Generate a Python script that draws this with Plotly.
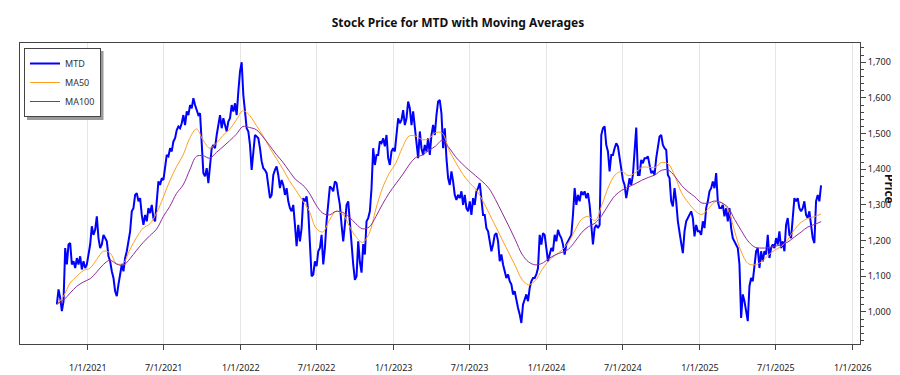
import pandas as pd
import plotly.graph_objects as go

# ---------------- data ----------------
start_date = "2020-10-19"
end_date = "2025-10-17"

mtd_prices = [
    # Oct 2020 - Jun 2021
    1021, 1063, 1039, 1002, 1030, 1179, 1133, 1189, 1193, 1133, 1142, 1123, 1151, 1133, 1156, 1119,
    1142, 1123, 1133, 1156, 1189, 1240, 1216, 1230, 1268, 1207, 1179, 1189, 1216, 1207, 1198, 1156,
    1142, 1114, 1095, 1058, 1044, 1077, 1105, 1133, 1114, 1151, 1170, 1198, 1226, 1282, 1291, 1328,
    1333, 1310, 1319, 1272, 1244, 1272, 1254, 1291, 1277, 1300, 1263, 1254, 1319, 1366, 1356, 1375,
    1370, 1412, 1440, 1436, 1459, 1450, 1478, 1487, 1510, 1520,
    # Jun 2021 - Jul 2022
    1515, 1529, 1552, 1524, 1562, 1552, 1580, 1571, 1599, 1580, 1562, 1552, 1557, 1459, 1389, 1380,
    1403, 1361, 1412, 1459, 1468, 1459, 1496, 1524, 1552, 1515, 1543, 1524, 1506, 1534, 1543, 1580,
    1562, 1585, 1552, 1618, 1674, 1700, 1608, 1562, 1515, 1506, 1468, 1398, 1440, 1496, 1492, 1487,
    1459, 1422, 1403, 1398, 1389, 1356, 1319, 1328, 1384, 1398, 1408, 1384, 1347, 1370, 1356, 1328,
    1347, 1310, 1291, 1282, 1300, 1244, 1184, 1244, 1198, 1235, 1319, 1310, 1324, 1282,
    # Jul 2022 - Jun 2023
    1179, 1100, 1105, 1142, 1128, 1170, 1179, 1216, 1133, 1179, 1254, 1300, 1352, 1347, 1338, 1366,
    1361, 1328, 1300, 1244, 1198, 1244, 1300, 1310, 1244, 1179, 1133, 1090, 1100, 1198, 1140, 1110,
    1190, 1161, 1254, 1263, 1282, 1347, 1459, 1412, 1440, 1440, 1478, 1473, 1487, 1464, 1496, 1431,
    1412, 1450, 1459, 1450, 1496, 1543, 1529, 1538, 1566, 1524, 1543, 1590, 1571, 1524, 1562, 1515,
    1459, 1431, 1506, 1459, 1440, 1468, 1450, 1487, 1440, 1496, 1524, 1496, 1552, 1590,
    # Jun 2023 - May 2024
    1594, 1557, 1459, 1515, 1431, 1375, 1356, 1394, 1366, 1328, 1314, 1328, 1319, 1338, 1300, 1328,
    1291, 1282, 1310, 1272, 1319, 1300, 1338, 1347, 1361, 1310, 1272, 1272, 1235, 1226, 1198, 1170,
    1189, 1216, 1221, 1198, 1142, 1161, 1133, 1114, 1095, 1105, 1086, 1077, 1049, 1058, 1030, 1011,
    993, 969, 1021, 1039, 1049, 1030, 1067, 1086, 1095, 1095, 1105, 1123, 1216, 1189, 1221, 1216,
    1179, 1142, 1161, 1179, 1170, 1216, 1198, 1230, 1216, 1207, 1189, 1161, 1189, 1198,
    # May 2024 - Apr 2025
    1207, 1216, 1272, 1347, 1300, 1328, 1310, 1338, 1328, 1338, 1319, 1333, 1300, 1235, 1189, 1235,
    1244, 1235, 1244, 1496, 1515, 1520, 1468, 1450, 1394, 1440, 1440, 1459, 1473, 1464, 1431, 1394,
    1370, 1356, 1319, 1347, 1375, 1356, 1384, 1450, 1517, 1384, 1384, 1426, 1417, 1431, 1431, 1436,
    1412, 1389, 1394, 1384, 1431, 1459, 1492, 1496, 1468, 1459, 1454, 1384, 1375, 1310, 1296, 1347,
    1310, 1254, 1216, 1193, 1165, 1226, 1254, 1263, 1272, 1282, 1263, 1212, 1244, 1226,
    # Apr 2025 - Oct 2025
    1226, 1216, 1254, 1235, 1291, 1310, 1338, 1347, 1366, 1347, 1389, 1310, 1291, 1291, 1300, 1268,
    1291, 1254, 1291, 1235, 1207, 1198, 1189, 1179, 1133, 983, 1049, 1030, 1002, 974, 1072, 1095,
    1086, 1123, 1170, 1179, 1123, 1170, 1142, 1170, 1161, 1216, 1151, 1179, 1189, 1179, 1207, 1189,
    1226, 1179, 1198, 1170, 1244, 1263, 1216, 1207, 1254, 1319, 1310, 1319, 1291, 1282, 1291, 1310,
    1272, 1263, 1282, 1244, 1207, 1193, 1310, 1328, 1310, 1355,
]

ma50_values = [
    1021, 1044, 1081, 1100, 1116, 1123, 1147, 1170, 1165, 1135, 1137, 1175, 1209, 1235, 1247, 1277,
    1321, 1368, 1407,
    1440, 1487, 1513, 1482, 1459, 1473, 1495, 1512, 1538, 1564, 1551, 1523, 1495, 1461, 1431, 1401,
    1368, 1340, 1312,
    1282, 1235, 1224, 1256, 1282, 1275, 1241, 1211, 1195, 1220, 1288, 1347, 1388, 1417, 1461, 1493,
    1493, 1483, 1486, 1503,
    1501, 1454, 1420, 1389, 1364, 1345, 1315, 1278, 1241, 1203, 1166, 1129, 1091, 1076, 1088, 1118,
    1143, 1159, 1173,
    1195, 1230, 1260, 1268, 1256, 1299, 1350, 1384, 1394, 1382, 1390, 1405, 1406, 1405, 1419, 1415,
    1381, 1334, 1307, 1285,
    1273, 1288, 1308, 1307, 1286, 1226, 1168, 1136, 1132, 1140, 1158, 1173, 1183, 1203, 1231, 1251,
    1262, 1267, 1275,
]

ma100_values = [
    1022, 1033, 1053, 1072, 1084, 1093, 1112, 1133, 1145, 1134, 1131, 1149, 1173, 1195, 1214, 1232,
    1267, 1296, 1332,
    1356, 1398, 1436, 1438, 1431, 1447, 1463, 1480, 1498, 1520, 1517, 1511, 1491, 1467, 1442, 1420,
    1394, 1370, 1356,
    1333, 1300, 1277, 1272, 1282, 1279, 1266, 1247, 1233, 1238, 1267, 1302, 1333, 1359, 1384, 1412,
    1433, 1440, 1453, 1465,
    1481, 1461, 1435, 1415, 1398, 1382, 1366, 1347, 1315, 1278, 1241, 1202, 1162, 1140, 1132, 1136,
    1149, 1160, 1167,
    1176, 1198, 1223, 1239, 1249, 1270, 1300, 1326, 1341, 1350, 1359, 1369, 1377, 1384, 1397, 1398,
    1380, 1355, 1337, 1323,
    1306, 1305, 1311, 1306, 1293, 1259, 1228, 1199, 1182, 1179, 1180, 1184, 1188, 1196, 1210, 1224,
    1238, 1245, 1253,
]

x_tick_dates = ["2021-01-01", "2021-07-01", "2022-01-01", "2022-07-01", "2023-01-01",
                "2023-07-01", "2024-01-01", "2024-07-01", "2025-01-01", "2025-07-01",
                "2026-01-01"]
x_tick_labels = ["1/1/2021", "7/1/2021", "1/1/2022", "7/1/2022", "1/1/2023", "7/1/2023",
                 "1/1/2024", "7/1/2024", "1/1/2025", "7/1/2025", "1/1/2026"]

price_dates = pd.date_range(start_date, end_date, periods=len(mtd_prices))
ma50_dates = pd.date_range(start_date, end_date, periods=len(ma50_values))
ma100_dates = pd.date_range(start_date, end_date, periods=len(ma100_values))

FONT = "Noto Sans, Open Sans, sans-serif"
W, H = 900, 375
ML, MR, MT, MB = 12, 48, 35, 39
PW, PH = W - ML - MR, H - MT - MB


def px_x(px):
    return (px - ML) / PW


def px_y(py):
    return 1 - (py - MT) / PH


fig = go.Figure()
fig.add_trace(go.Scatter(x=price_dates, y=mtd_prices, mode="lines", name="MTD",
                         line=dict(color="#0000ff", width=2)))
fig.add_trace(go.Scatter(x=ma50_dates, y=ma50_values, mode="lines", name="MA50",
                         line=dict(color="#ffa020", width=1, shape="spline")))
fig.add_trace(go.Scatter(x=ma100_dates, y=ma100_values, mode="lines", name="MA100",
                         line=dict(color="#8e2c9a", width=1, shape="spline")))

fig.update_layout(
    width=W, height=H,
    margin=dict(l=ML, r=MR, t=MT, b=MB, autoexpand=False),
    paper_bgcolor="white", plot_bgcolor="white",
    font=dict(family=FONT, size=9, color="#222"),
    title=dict(text="<b>Stock Price for MTD with Moving Averages</b>",
               x=0.5, xref="container", xanchor="center",
               y=1 - 15 / H, yref="container", yanchor="middle",
               font=dict(family=FONT, size=12, color="#111")),
    showlegend=True,
    legend=dict(x=px_x(16), y=px_y(40), xanchor="left", yanchor="top",
                bgcolor="white", bordercolor="#444", borderwidth=1,
                font=dict(family=FONT, size=9, color="#333"),
                itemwidth=30, tracegroupgap=0),
    xaxis=dict(type="date", range=["2020-07-23", "2026-01-18"], automargin=False,
               tickvals=x_tick_dates, ticktext=x_tick_labels,
               showgrid=True, gridcolor="#e6e6e6", gridwidth=1,
               showline=True, linecolor="#444", linewidth=1, mirror=True,
               ticks="outside", ticklen=5, tickcolor="#444",
               ticklabelstandoff=10, zeroline=False,
               tickfont=dict(family=FONT, size=9, color="#222")),
    yaxis=dict(side="right", range=[910, 1754], tick0=1000, dtick=100, automargin=False,
               tickformat=",d", showgrid=False, zeroline=False,
               showline=True, linecolor="#444", linewidth=1, mirror=True,
               ticks="outside", ticklen=5, tickcolor="#444",
               minor=dict(dtick=20, tick0=1000, ticks="outside", ticklen=3,
                          tickcolor="#444", showgrid=False),
               tickfont=dict(family=FONT, size=9, color="#222")),
    shapes=[dict(type="rect", xref="paper", yref="paper",
                 x0=px_x(19), x1=px_x(95.5), y0=px_y(112), y1=px_y(43),
                 fillcolor="#9a9a9a", line=dict(width=0), layer="above")],
    annotations=[dict(text="<b>Price</b>", xref="paper", yref="paper",
                      x=px_x(882), y=px_y(181),
                      xanchor="center", yanchor="middle", showarrow=False,
                      textangle=90, font=dict(family=FONT, size=12, color="#111"))],
)

fig.write_html("out.html")
